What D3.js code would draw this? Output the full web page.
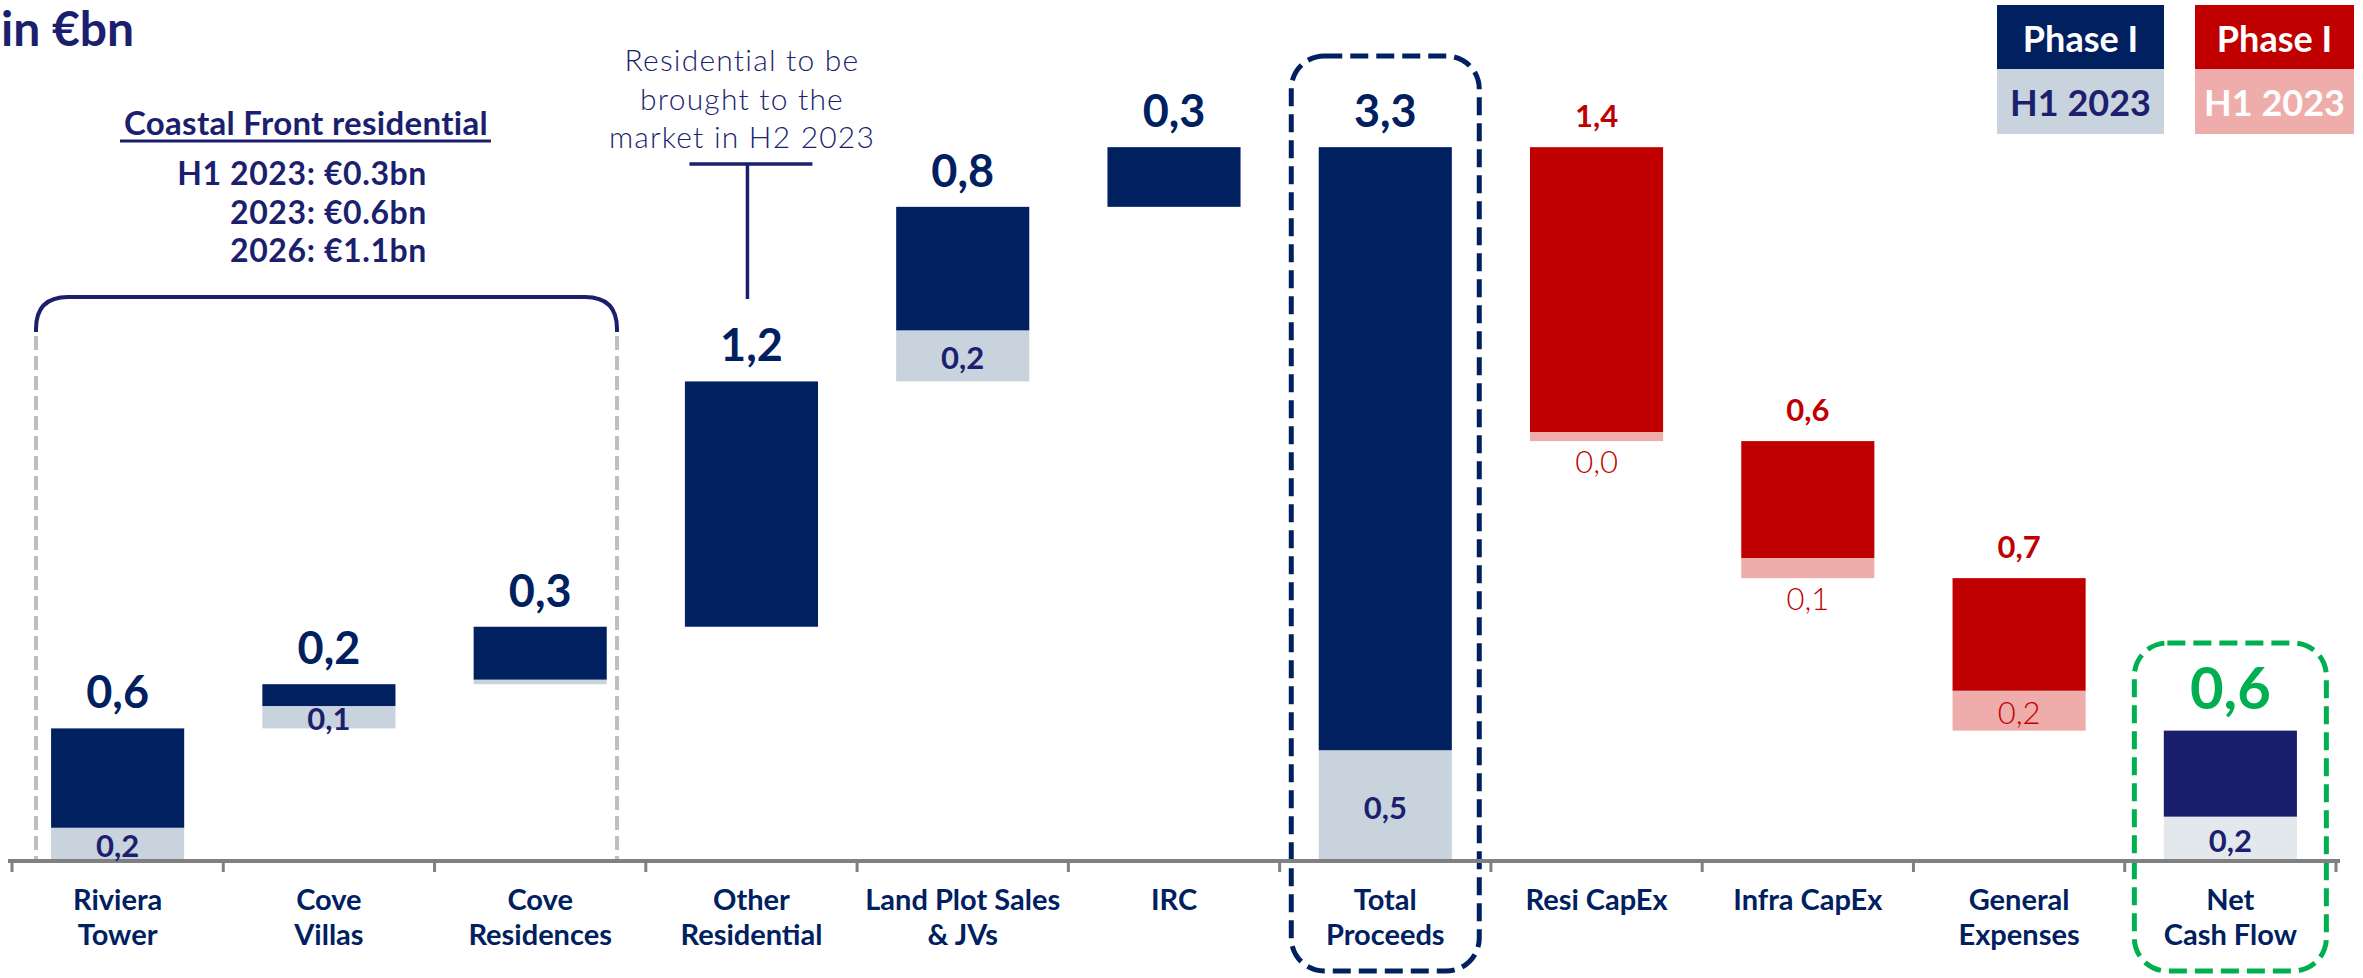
<!DOCTYPE html>
<html>
<head>
<meta charset="utf-8">
<script src="https://cdn.jsdelivr.net/npm/d3@7"></script>
<style>
  body { margin: 0; background: #fff; }
  svg { display: block; font-family: Lato, "Open Sans", sans-serif; }
</style>
</head>
<body>
<div id="chart"></div>
<script>
// -------------------- Data --------------------

const categories = ["Riviera Tower", "Cove Villas", "Cove Residences", "Other Residential",
    "Land Plot Sales & JVs", "IRC", "Total Proceeds", "Resi CapEx", "Infra CapEx",
    "General Expenses", "Net Cash Flow"];

// category labels split on two lines like the slide
const categoryLines = [["Riviera", "Tower"], ["Cove", "Villas"], ["Cove", "Residences"],
    ["Other", "Residential"], ["Land Plot Sales", "& JVs"], ["IRC"], ["Total", "Proceeds"],
    ["Resi CapEx"], ["Infra CapEx"], ["General", "Expenses"], ["Net", "Cash Flow"]];

// step type of each bar in the waterfall
const barKinds = ["up", "up", "up", "up", "up", "up", "total", "down", "down", "down", "total"];

// Phase I amounts (bar heights, €bn) and the H1 2023 part of each
const phaseValues = [0.60, 0.20, 0.26, 1.11, 0.79, 0.27, 3.23, 1.33, 0.62, 0.69, 0.59];
const h1Values = [0.15, 0.10, 0.02, 0, 0.23, 0, 0.50, 0.04, 0.09, 0.18, 0.20];

// printed labels
const phaseLabels = ["0,6", "0,2", "0,3", "1,2", "0,8", "0,3", "3,3", "1,4", "0,6", "0,7", "0,6"];
const h1Labels = ["0,2", "0,1", "", "", "0,2", "", "0,5", "0,0", "0,1", "0,2", "0,2"];

const coastalLines = ["H1 2023: €0.3bn", "2023: €0.6bn", "2026: €1.1bn"];
const noteLines = ["Residential to be", "brought to the", "market in H2 2023"];


// -------------------- Setup --------------------

const WIDTH = 2363;
const HEIGHT = 978;
const AXIS_Y = 861;

const NAVY = "#002060";
const NAVY_TEXT = "#1b1f6e";
const NAVY_LIGHT = "#c8d3de";
const NET_NAVY = "#181e6c";
const NET_LIGHT = "#e3e8ed";
const RED = "#c00000";
const RED_LIGHT = "#eeadaa";
const GREEN = "#00b050";
const GREY = "#808080";

const svg = d3.select("#chart")
    .append("svg")
    .attr("width", WIDTH)
    .attr("height", HEIGHT)
    .attr("viewBox", [0, 0, WIDTH, HEIGHT]);

const xScale = d3.scaleBand()
    .domain(categories)
    .range([12, 2336])
    .paddingInner(0.37)
    .paddingOuter(0.185);

const yScale = d3.scaleLinear()
    .domain([0, 1])
    .range([AXIS_Y, AXIS_Y - 221]);

// building the waterfall steps
let running = 0;
const bars = categories.map((name, i) => {
    const v = phaseValues[i];
    const kind = barKinds[i];
    let base, top;
    if (kind === "up") { base = running; top = running + v; running = top; }
    else if (kind === "total") { base = 0; top = v; running = v; }
    else { top = running; base = running - v; running = base; }
    return { name, kind, base, top, h1: h1Values[i], label: phaseLabels[i], h1Label: h1Labels[i], lines: categoryLines[i] };
});

const isNet = d => d.name === "Net Cash Flow";
const darkColor = d => d.kind === "down" ? RED : (isNet(d) ? NET_NAVY : NAVY);
const lightColor = d => d.kind === "down" ? RED_LIGHT : (isNet(d) ? NET_LIGHT : NAVY_LIGHT);


// -------------------- Annotations behind the bars --------------------

// Coastal Front bracket: solid rounded top, dashed grey sides
const bx0 = 36, bx1 = 617, by = 297, br = 32, byEnd = 332;
svg.append("path")
    .attr("d", `M${bx0},${byEnd} L${bx0},${by + br} Q${bx0},${by} ${bx0 + br},${by} L${bx1 - br},${by} Q${bx1},${by} ${bx1},${by + br} L${bx1},${byEnd}`)
    .attr("fill", "none")
    .attr("stroke", NAVY_TEXT)
    .attr("stroke-width", 4);

svg.append("g")
    .selectAll("line")
    .data([bx0, bx1])
    .join("line")
    .attr("x1", d => d).attr("x2", d => d)
    .attr("y1", byEnd + 4).attr("y2", AXIS_Y)
    .attr("stroke", "#bfbfbf")
    .attr("stroke-width", 4)
    .attr("stroke-dasharray", "14 6");

// dashed highlight boxes
const boxes = [
    { name: "Total Proceeds", w: 188, y0: 56, color: NAVY },
    { name: "Net Cash Flow", w: 192, y0: 643, color: GREEN }
];
svg.append("g")
    .selectAll("rect")
    .data(boxes)
    .join("rect")
    .attr("x", d => xScale(d.name) + xScale.bandwidth() / 2 - d.w / 2)
    .attr("y", d => d.y0)
    .attr("width", d => d.w)
    .attr("height", d => 971 - d.y0)
    .attr("rx", 33)
    .attr("fill", "none")
    .attr("stroke", d => d.color)
    .attr("stroke-width", 5)
    .attr("stroke-dasharray", "18 8");


// -------------------- Bars --------------------

const barGroup = svg.append("g");

barGroup.selectAll("rect.dark")
    .data(bars)
    .join("rect")
    .attr("class", "dark")
    .attr("x", d => xScale(d.name))
    .attr("width", xScale.bandwidth())
    .attr("y", d => yScale(d.top))
    .attr("height", d => yScale(d.base + d.h1) - yScale(d.top))
    .attr("fill", darkColor);

barGroup.selectAll("rect.light")
    .data(bars.filter(d => d.h1 > 0))
    .join("rect")
    .attr("class", "light")
    .attr("x", d => xScale(d.name))
    .attr("width", xScale.bandwidth())
    .attr("y", d => yScale(d.base + d.h1))
    .attr("height", d => yScale(d.base) - yScale(d.base + d.h1))
    .attr("fill", lightColor);


// -------------------- Axis --------------------

const axisGroup = svg.append("g").attr("stroke", GREY);
const [r0] = xScale.range();
axisGroup.append("line")
    .attr("x1", r0 - 4).attr("x2", r0 + xScale.step() * categories.length + 4)
    .attr("y1", AXIS_Y).attr("y2", AXIS_Y)
    .attr("stroke-width", 4);
axisGroup.selectAll("line.tick")
    .data(d3.range(categories.length + 1))
    .join("line")
    .attr("class", "tick")
    .attr("x1", i => r0 + i * xScale.step())
    .attr("x2", i => r0 + i * xScale.step())
    .attr("y1", AXIS_Y).attr("y2", AXIS_Y + 11)
    .attr("stroke-width", 3);

svg.append("g")
    .attr("font-weight", "bold")
    .attr("font-size", 29)
    .attr("fill", NAVY)
    .attr("text-anchor", "middle")
    .selectAll("text")
    .data(bars)
    .join("text")
    .attr("x", d => xScale(d.name) + xScale.bandwidth() / 2)
    .attr("y", 910)
    .selectAll("tspan")
    .data(d => d.lines)
    .join("tspan")
    .attr("x", function () { return d3.select(this.parentNode).attr("x"); })
    .attr("dy", (d, i) => i === 0 ? 0 : 35)
    .text(d => d);


// -------------------- Value labels --------------------

const cx = d => xScale(d.name) + xScale.bandwidth() / 2;

svg.append("g")
    .attr("font-weight", "bold")
    .attr("text-anchor", "middle")
    .selectAll("text")
    .data(bars)
    .join("text")
    .attr("x", cx)
    .attr("y", d => yScale(d.top) - (isNet(d) ? 22 : 20))
    .attr("font-size", d => d.kind === "down" ? 31 : (isNet(d) ? 58 : 45))
    .attr("fill", d => d.kind === "down" ? RED : (isNet(d) ? GREEN : NAVY))
    .text(d => d.label);

svg.append("g")
    .attr("text-anchor", "middle")
    .attr("font-size", 31)
    .selectAll("text")
    .data(bars.filter(d => d.h1Label !== ""))
    .join("text")
    .attr("x", cx)
    .attr("y", d => {
        const h = yScale(d.base) - yScale(d.base + d.h1);
        if (d.kind === "down" && h < 28) return yScale(d.base) + 32;
        return (yScale(d.base) + yScale(d.base + d.h1)) / 2 + 2;
    })
    .attr("dy", d => (d.kind === "down" && yScale(d.base) - yScale(d.base + d.h1) < 28) ? 0 : "0.35em")
    .attr("font-weight", d => d.kind === "down" ? 300 : "bold")
    .attr("fill", d => d.kind === "down" ? RED : NAVY_TEXT)
    .text(d => d.h1Label);


// -------------------- Texts --------------------

svg.append("text")
    .attr("x", 1).attr("y", 46)
    .attr("font-size", 48).attr("font-weight", "bold")
    .attr("fill", NAVY_TEXT)
    .text("in €bn");

svg.append("text")
    .attr("x", 306).attr("y", 135)
    .attr("text-anchor", "middle")
    .attr("font-size", 33).attr("font-weight", "bold")
    .attr("letter-spacing", 0.3)
    .attr("fill", NAVY_TEXT)
    .text("Coastal Front residential");
svg.append("line")
    .attr("x1", 120).attr("x2", 491)
    .attr("y1", 141).attr("y2", 141)
    .attr("stroke", NAVY_TEXT).attr("stroke-width", 3);

svg.append("g")
    .attr("text-anchor", "end")
    .attr("font-size", 32).attr("font-weight", "bold")
    .attr("letter-spacing", 0.6)
    .attr("fill", NAVY_TEXT)
    .selectAll("text")
    .data(coastalLines)
    .join("text")
    .attr("x", 427)
    .attr("y", (d, i) => 185 + i * 38.5)
    .text(d => d);

// note above Other Residential
svg.append("g")
    .attr("text-anchor", "middle")
    .attr("font-size", 30).attr("font-weight", 300)
    .attr("letter-spacing", 1.2)
    .attr("fill", NAVY_TEXT)
    .selectAll("text")
    .data(noteLines)
    .join("text")
    .attr("x", 742)
    .attr("y", (d, i) => 71 + i * 38.5)
    .text(d => d);

const noteX = cx(bars[3]) - 4;
svg.append("path")
    .attr("d", `M${noteX - 58},164 L${noteX + 65},164 M${noteX},164 L${noteX},299`)
    .attr("fill", "none")
    .attr("stroke", NAVY_TEXT)
    .attr("stroke-width", 3.5);


// -------------------- Legend --------------------

const legendData = [
    { x: 1997, w: 167, dark: NAVY, light: NAVY_LIGHT, lightText: NAVY_TEXT },
    { x: 2195, w: 159, dark: RED, light: RED_LIGHT, lightText: "#fff" }
];
const legend = svg.append("g").selectAll("g").data(legendData).join("g");
legend.append("rect")
    .attr("x", d => d.x).attr("y", 5).attr("width", d => d.w).attr("height", 64)
    .attr("fill", d => d.dark);
legend.append("rect")
    .attr("x", d => d.x).attr("y", 69).attr("width", d => d.w).attr("height", 65)
    .attr("fill", d => d.light);
legend.append("text")
    .attr("x", d => d.x + d.w / 2).attr("y", 52)
    .attr("text-anchor", "middle")
    .attr("font-size", 36).attr("font-weight", "bold")
    .attr("fill", "#fff")
    .text("Phase I");
legend.append("text")
    .attr("x", d => d.x + d.w / 2).attr("y", 116)
    .attr("text-anchor", "middle")
    .attr("font-size", 36).attr("font-weight", "bold")
    .attr("fill", d => d.lightText)
    .text("H1 2023");
</script>
</body>
</html>
